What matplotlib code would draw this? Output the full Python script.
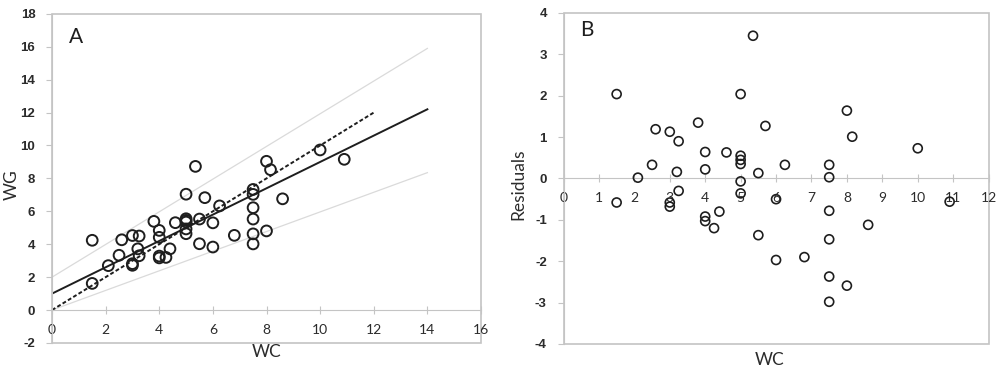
import matplotlib
matplotlib.use("Agg")
import matplotlib.pyplot as plt
from matplotlib.patches import Rectangle

plt.rcParams['font.family'] = ['Lato', 'DejaVu Sans']

# data
wc = [1.5, 1.5, 2.1, 2.5, 2.6, 3.0, 3.25, 3.2, 3.25, 3.0, 3.0, 3.8, 5.35, 5.0, 5.7,
      4.0, 4.6, 5.0, 5.0, 5.0, 4.0, 5.5, 6.25, 5.0, 5.0, 6.0, 4.4, 4.0, 4.0, 4.25,
      5.5, 6.0, 6.8, 7.5, 7.5, 7.5, 7.5, 7.5, 7.5, 8.0, 8.15, 10.0, 8.6, 8.0, 10.9]
wg = [4.24, 1.62, 2.70, 3.33, 4.27, 4.53, 4.50, 3.72, 3.30, 2.82, 2.72, 5.39, 8.73, 7.04, 6.83,
      4.84, 5.31, 5.55, 5.45, 5.35, 4.42, 5.53, 6.33, 4.93, 4.64, 5.30, 3.72, 3.28, 3.17, 3.20,
      4.03, 3.83, 4.54, 7.33, 7.03, 6.22, 5.53, 4.63, 4.02, 9.04, 8.53, 9.73, 6.76, 4.81, 9.16]
resid = [2.04, -0.58, 0.02, 0.33, 1.19, 1.13, 0.90, 0.16, -0.30, -0.58, -0.68, 1.35, 3.45, 2.04, 1.27,
         0.64, 0.63, 0.55, 0.45, 0.35, 0.22, 0.13, 0.33, -0.07, -0.36, -0.50, -0.80, -0.92, -1.03, -1.20,
         -1.37, -1.97, -1.90, 0.33, 0.03, -0.78, -1.47, -2.37, -2.98, 1.64, 1.01, 0.73, -1.12, -2.59, -0.56]

# fitted line, identity line and outer band (x, y end points)
fit_x = [0, 14]
fit_y = [1.0, 12.2]
ident_x = [0, 12]
ident_y = [0, 12]
upper_x = [0, 14]
upper_y = [2.0, 15.9]
lower_x = [0, 14]
lower_y = [0.0, 8.35]

xticks_a = list(range(0, 17, 2))
yticks_a = list(range(-2, 19, 2))
xticks_b = list(range(0, 13))
yticks_b = list(range(-4, 5))

frame_col = '#c4c4c4'
txt_col = '#2b2b2b'
tick_font = dict(family='Liberation Sans', weight='bold', size=9.5)

fig = plt.figure(figsize=(10, 3.69), dpi=100)
axA = fig.add_axes([0.052, 0.0705, 0.429, 0.892])
axB = fig.add_axes([0.5635, 0.0678, 0.4251, 0.897])


def style(ax, xlim, ylim, xticks, yticks):
    ax.set_xlim(*xlim)
    ax.set_ylim(*ylim)
    ax.set_xticks(xticks, labels=[str(t) for t in xticks], fontdict=tick_font)
    ax.set_yticks(yticks, labels=[str(t) for t in yticks], fontdict=tick_font)
    for s in ['top', 'right']:
        ax.spines[s].set_visible(False)
    ax.spines['bottom'].set_position(('data', 0))
    ax.spines['bottom'].set_color(frame_col)
    ax.spines['left'].set_color(frame_col)
    ax.add_patch(Rectangle((0, 0), 1, 1, transform=ax.transAxes, fill=False,
                           edgecolor=frame_col, linewidth=1.2, clip_on=False, zorder=0))
    ax.tick_params(axis='x', direction='inout', length=6, color=frame_col,
                   labelcolor=txt_col, pad=7)
    ax.tick_params(axis='y', direction='out', length=4, color=frame_col,
                   labelcolor=txt_col, pad=8)


# panel A
style(axA, (0, 16), (-2, 18), xticks_a, yticks_a)
axA.plot(upper_x, upper_y, color='#dadada', lw=0.9)
axA.plot(lower_x, lower_y, color='#dadada', lw=0.9)
axA.plot(ident_x, ident_y, color='#1e1e1e', lw=1.4, ls=(0, (2, 1.2)))
axA.plot(fit_x, fit_y, color='#1e1e1e', lw=1.4)
axA.scatter(wc, wg, s=60, facecolors='none', edgecolors='#1e1e1e', linewidths=1.4, zorder=3)
axA.text(0.9, 16.6, 'A', fontsize=15, color='#1e1e1e', va='center', ha='center')
axA.set_xlabel('WC', fontsize=12.5, color=txt_col)
axA.set_ylabel('WG', fontsize=12.5, color=txt_col)
axA.xaxis.set_label_coords(0.5, -0.028)
axA.xaxis.label.set_va('center')
axA.yaxis.set_label_coords(-0.093, 0.48)
axA.yaxis.label.set_va('center')

# panel B
style(axB, (0, 12), (-4, 4), xticks_b, yticks_b)
axB.scatter(wc, resid, s=42, facecolors='none', edgecolors='#1e1e1e', linewidths=1.2, zorder=3)
axB.text(0.65, 3.6, 'B', fontsize=15, color='#1e1e1e', va='center', ha='center')
axB.set_xlabel('WC', fontsize=12.5, color=txt_col)
axB.set_ylabel('Residuals', fontsize=12.5, color=txt_col)
axB.xaxis.set_label_coords(0.486, -0.048)
axB.xaxis.label.set_va('center')
axB.yaxis.set_label_coords(-0.107, 0.483)
axB.yaxis.label.set_va('center')

fig.savefig('out.png', dpi=100)
